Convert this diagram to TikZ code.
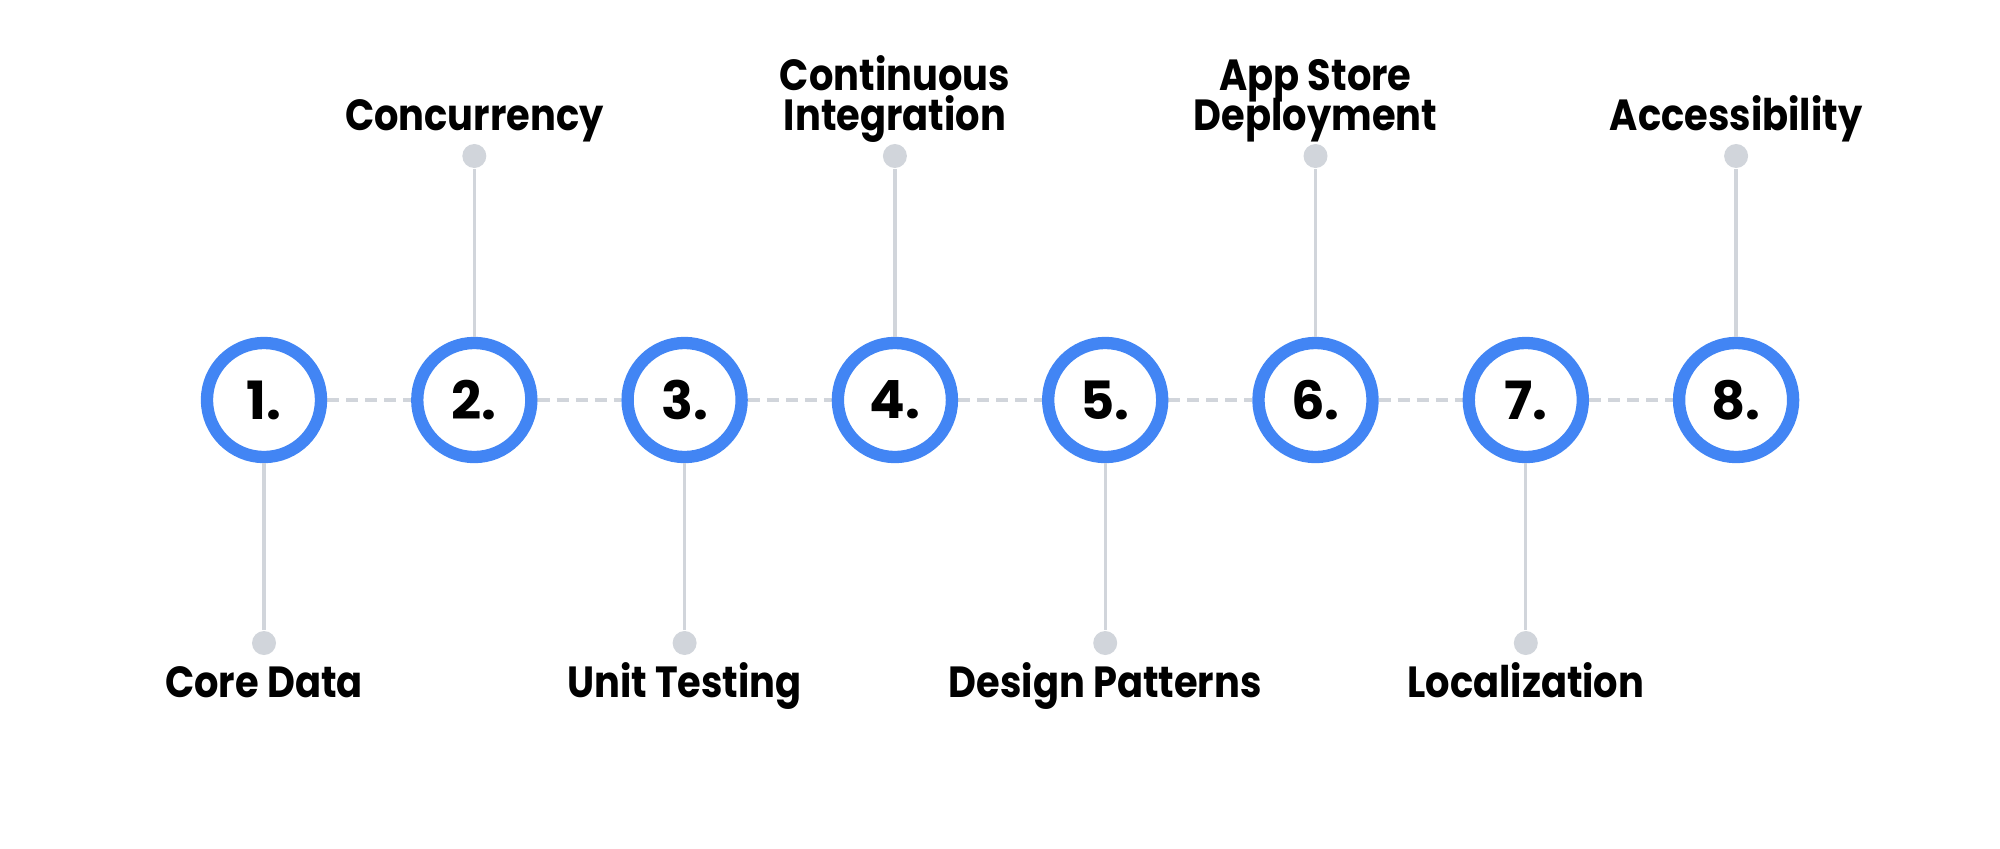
\documentclass[tikz,border=0pt]{standalone}
\usepackage{fontspec}
\setmainfont{Poppins}[FakeStretch=0.88]
\newfontfamily\numfont{Poppins}
\usetikzlibrary{backgrounds}
\definecolor{ringblue}{HTML}{4285F4}
\definecolor{linegray}{HTML}{D1D5DB}
\newcommand\lblfont{\fontsize{12.4}{11.2}\selectfont\bfseries\lineskiplimit=-20pt\relax}
\tikzset{
  ring/.style={circle, draw=ringblue, line width=3.5pt, fill=white, minimum size=1.14cm, inner sep=0pt, text=black, font=\numfont\fontsize{15}{15}\selectfont\bfseries},
  stem/.style={draw=linegray, line width=0.95pt},
  dashlink/.style={draw=linegray, line width=1.05pt, dash pattern=on 0.12cm off 0.07cm},
  dotnode/.style={circle, fill=linegray, minimum size=0.24cm, inner sep=0pt},
  lbl/.style={font=\lblfont, align=center, inner sep=0pt, anchor=base, text=black},
}
\begin{document}
\begin{tikzpicture}[x=0.01cm, y=-0.01cm]
\useasboundingbox (0,0) rectangle (2000,848);
\foreach \k in {1,...,8} {
  \node[ring] (c\k) at ({264+210.3*(\k-1)},400) {\k.};
}
\begin{scope}[on background layer]
\foreach \a/\b in {1/2,2/3,3/4,4/5,5/6,6/7,7/8} {
  \draw[dashlink] (c\a) -- (c\b);
}
\end{scope}
\foreach \k in {2,4,6,8} {
  \node[dotnode] (d\k) at ({264+210.3*(\k-1)},156) {};
  \draw[stem] (c\k.north) -- (d\k);
}
\foreach \k in {1,3,5,7} {
  \node[dotnode] (d\k) at ({264+210.3*(\k-1)},643) {};
  \draw[stem] (c\k.south) -- (d\k);
}
\node[lbl] (l1) at (264,697) {Core Data};
\node[lbl] (l2) at (474.3,130) {Concurrency};
\node[lbl] (l3) at (684.6,697) {Unit Testing};
\node[lbl] (l4) at (894.9,130) {Continuous\\Integration};
\node[lbl] (l5) at (1105.2,697) {Design Patterns};
\node[lbl] (l6) at (1315.5,130) {App Store\\Deployment};
\node[lbl] (l7) at (1525.8,697) {Localization};
\node[lbl] (l8) at (1736.1,130) {Accessibility};
\end{tikzpicture}
\end{document}
